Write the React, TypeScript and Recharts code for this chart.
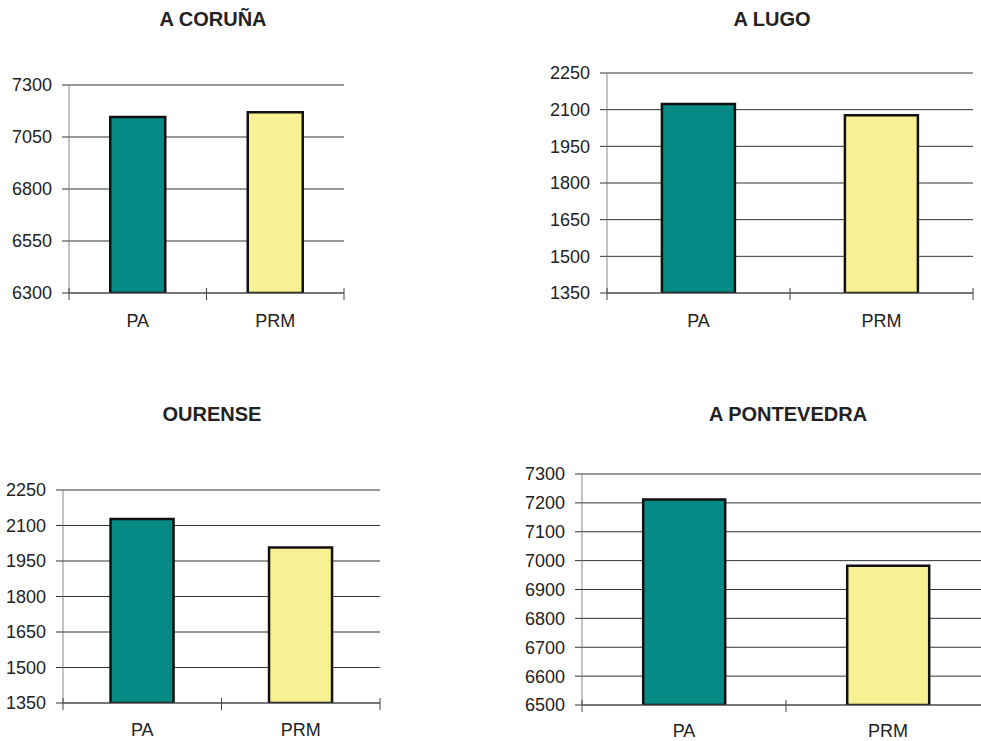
import { BarChart, Bar, XAxis, YAxis, CartesianGrid, Cell } from "recharts";

// categories shared by the four panels
const categories = ["PA", "PRM"];

// values
const corunaValues = [7146, 7169];
const lugoValues = [2123, 2077];
const ourenseValues = [2127, 2007];
const pontevedraValues = [7212, 6982];

// y axis tick labels
const corunaTicks = [6300, 6550, 6800, 7050, 7300];
const lugoTicks = [1350, 1500, 1650, 1800, 1950, 2100, 2250];
const ourenseTicks = [1350, 1500, 1650, 1800, 1950, 2100, 2250];
const pontevedraTicks = [6500, 6600, 6700, 6800, 6900, 7000, 7100, 7200, 7300];

const barColors = ["#068a85", "#f7f193"];
const FONT = "'Liberation Sans', Arial, sans-serif";

const CatTick = (props: any) => {
    const { x, y, payload, index, visibleTicksCount, gap } = props;
    const half = payload.offset ?? 0;
    const axisY = y - gap;
    const last = index === visibleTicksCount - 1;
    return (
        <g>
            <line x1={x - half} x2={x - half} y1={axisY - 5} y2={axisY + 7} stroke="#444" />
            {last && (
                <line x1={x + half} x2={x + half} y1={axisY - 5} y2={axisY + 7} stroke="#444" />
            )}
            <text x={x} y={y} dy="0.71em" textAnchor="middle" fill="#222" fontSize={18} fontFamily={FONT}>
                {payload.value}
            </text>
        </g>
    );
};

type PanelProps = {
    title: string;
    values: number[];
    ticks: number[];
    left: number;
    top: number;
    width: number;
    height: number;
    margin: { top: number; right: number; left: number; bottom: number };
    yWidth: number;
    xHeight: number;
    xGap: number;
    titleCenter: number;
    titleTop: number;
};

function Panel(p: PanelProps) {
    const data = categories.map((c, i) => ({ name: c, value: p.values[i] }));
    return (
        <>
            <div
                style={{
                    position: "absolute",
                    left: p.titleCenter - 150,
                    width: 300,
                    top: p.titleTop,
                    textAlign: "center",
                    fontFamily: FONT,
                    fontWeight: "bold",
                    fontSize: 20,
                    lineHeight: "22px",
                    color: "#222",
                }}
            >
                {p.title}
            </div>
            <div style={{ position: "absolute", left: p.left, top: p.top }}>
                <BarChart width={p.width} height={p.height} data={data} margin={p.margin} barCategoryGap="30%">
                    <CartesianGrid vertical={false} stroke="#333" />
                    <XAxis
                        dataKey="name"
                        height={p.xHeight}
                        tickSize={0}
                        tickMargin={p.xGap}
                        tickLine={false}
                        axisLine={{ stroke: "#555" }}
                        tick={<CatTick gap={p.xGap} />}
                        interval={0}
                    />
                    <YAxis
                        type="number"
                        domain={[p.ticks[0], p.ticks[p.ticks.length - 1]]}
                        ticks={p.ticks}
                        interval={0}
                        width={p.yWidth}
                        tickSize={7}
                        tickMargin={10}
                        tickLine={{ stroke: "#333" }}
                        axisLine={{ stroke: "#888" }}
                        tick={{ fill: "#222", fontSize: 18, fontFamily: FONT }}
                        allowDataOverflow
                    />
                    <Bar dataKey="value" stroke="#111" strokeWidth={2.5} isAnimationActive={false}>
                        {data.map((d, i) => (
                            <Cell key={d.name} fill={barColors[i]} />
                        ))}
                    </Bar>
                </BarChart>
            </div>
        </>
    );
}

export default function App() {
    return (
        <div
            style={{
                position: "absolute",
                left: 0,
                top: 0,
                width: 981,
                height: 741,
                overflow: "hidden",
                background: "#fff",
            }}
        >
            <Panel
                title="A CORUÑA"
                values={corunaValues}
                ticks={corunaTicks}
                left={0}
                top={40}
                width={360}
                height={300}
                margin={{ top: 45, right: 16, left: 0, bottom: 7 }}
                yWidth={69}
                xHeight={40}
                xGap={21}
                titleCenter={213}
                titleTop={8}
            />
            <Panel
                title="A LUGO"
                values={lugoValues}
                ticks={lugoTicks}
                left={520}
                top={40}
                width={461}
                height={300}
                margin={{ top: 33, right: 8, left: 0, bottom: 7 }}
                yWidth={87}
                xHeight={40}
                xGap={21}
                titleCenter={772}
                titleTop={8}
            />
            <Panel
                title="OURENSE"
                values={ourenseValues}
                ticks={ourenseTicks}
                left={0}
                top={440}
                width={400}
                height={300}
                margin={{ top: 50, right: 20, left: 0, bottom: 0 }}
                yWidth={63}
                xHeight={37}
                xGap={20}
                titleCenter={212}
                titleTop={403}
            />
            <Panel
                title="A PONTEVEDRA"
                values={pontevedraValues}
                ticks={pontevedraTicks}
                left={500}
                top={440}
                width={500}
                height={300}
                margin={{ top: 34, right: 10, left: 0, bottom: 0 }}
                yWidth={82}
                xHeight={35}
                xGap={19}
                titleCenter={788}
                titleTop={403}
            />
        </div>
    );
}
